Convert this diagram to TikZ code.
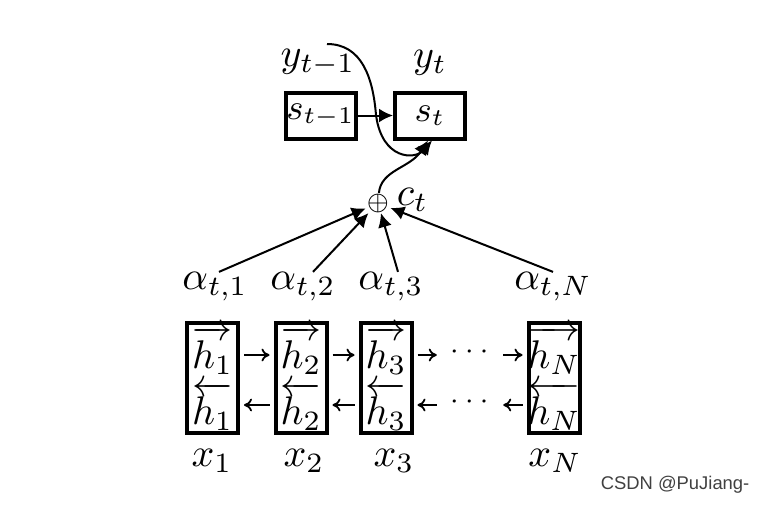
\documentclass[tikz,border=0pt]{standalone}
\usepackage{amsmath}
\usepackage{fontspec}
\newfontfamily\markfont{Liberation Sans}
\usetikzlibrary{arrows.meta}

\begin{document}
\begin{tikzpicture}[x=0.25pt,y=0.25pt,yscale=-1,
    every node/.style={font=\fontsize{10}{12}\selectfont},
    hbox/.style={draw,line width=1pt,minimum width=12.75pt,minimum height=27.5pt,inner sep=0pt},
    sbox/.style={draw,line width=1pt,minimum width=17.5pt,minimum height=11.5pt,inner sep=0pt,
      font=\fontsize{9}{11}\selectfont},
    lab/.style={inner sep=0pt},
    dots/.style={inner sep=0pt,font=\fontsize{7.5}{9}\selectfont},
    harr/.style={-{To[length=2pt,width=3.2pt]},line width=0.45pt,shorten <=1pt,shorten >=1pt},
    att/.style={-{Latex[length=3.5pt,width=3.5pt]},line width=0.5pt}]
  \useasboundingbox (0,0) rectangle (759,505);

  % encoder boxes
  \node[hbox] (b1) at (212.5,378) {};
  \node[hbox] (b2) at (301,378) {};
  \node[hbox] (b3) at (386,378) {};
  \node[hbox] (bN) at (554,378) {};

  % hidden states
  \node[lab] (f1) at (212.5,350) {$\overrightarrow{h_1}$};
  \node[lab] (g1) at (212.5,406) {$\overleftarrow{h_1}$};
  \node[lab] (f2) at (301,350) {$\overrightarrow{h_2}$};
  \node[lab] (g2) at (301,406) {$\overleftarrow{h_2}$};
  \node[lab] (f3) at (386,350) {$\overrightarrow{h_3}$};
  \node[lab] (g3) at (386,406) {$\overleftarrow{h_3}$};
  \node[lab] (fN) at (554,350) {$\overrightarrow{h_N}$};
  \node[lab] (gN) at (554,406) {$\overleftarrow{h_N}$};

  % dots
  \node[dots] (df) at (472,352) {$\cdots$};
  \node[dots] (db) at (472,402) {$\cdots$};

  % forward / backward arrows
  \draw[harr] ([yshift=-5.75pt]b1.east) -- ([yshift=-5.75pt]b2.west);
  \draw[harr] ([yshift=-5.75pt]b2.east) -- ([yshift=-5.75pt]b3.west);
  \draw[harr,shorten >=3pt] ([yshift=-5.75pt]b3.east) -- ([yshift=-5.75pt]b3.east -| df.west);
  \draw[harr,shorten <=2pt] ([yshift=-5.75pt]bN.west -| df.east) -- ([yshift=-5.75pt]bN.west);
  \draw[harr] ([yshift=6.75pt]b2.west) -- ([yshift=6.75pt]b1.east);
  \draw[harr] ([yshift=6.75pt]b3.west) -- ([yshift=6.75pt]b2.east);
  \draw[harr,shorten <=3pt] ([yshift=6.75pt]b3.east -| db.west) -- ([yshift=6.75pt]b3.east);
  \draw[harr,shorten >=2pt] ([yshift=6.75pt]bN.west) -- ([yshift=6.75pt]bN.west -| db.east);

  % inputs
  \node[lab] (x1) at (212,461) {$x_1$};
  \node[lab] (x2) at (304,461) {$x_2$};
  \node[lab] (x3) at (394,461) {$x_3$};
  \node[lab] (xN) at (555,461) {$x_N$};

  % attention weights
  \node[lab] (a1) at (215,287) {$\alpha_{t,1}$};
  \node[lab] (a2) at (303,287) {$\alpha_{t,2}$};
  \node[lab] (a3) at (391,287) {$\alpha_{t,3}$};
  \node[lab] (aN) at (553,287) {$\alpha_{t,N}$};

  % context vector
  \node[inner sep=0pt,font=\fontsize{6}{7}\selectfont] (sum) at (378,203) {$\oplus$};
  \node[lab,anchor=west] (ct) at (396,200) {$c_t$};

  \draw[att] ([xshift=1pt]a1.north) -- (sum);
  \draw[att] ([xshift=2.5pt]a2.north) -- (sum);
  \draw[att] ([xshift=1.75pt]a3.north) -- (sum);
  \draw[att] (aN.north) -- (sum);

  % decoder
  \node[sbox] (s1) at (320.5,115.5) {$s_{t-1}$};
  \node[sbox] (s2) at (430,115.5) {$s_t$};
  \node[lab] (y1) at (318,63) {$y_{t-1}$};
  \node[lab] (y2) at (430,63) {$y_t$};
  \coordinate (yin) at (327,44);

  \draw[att] (s1) -- (s2);
  \draw[att] (yin) .. controls (362,44) and (373,78) .. (376,115) .. controls (382,160) and (415,160) .. ([xshift=0.5pt]s2.south);
  \draw[att] (sum) .. controls (381,170) and (410,168) .. ([xshift=-0.5pt]s2.south);

  % watermark
  \node[anchor=west,inner sep=0pt,text=black!75,font=\markfont\fontsize{4.6}{5}\selectfont] (mark) at (600,485) {CSDN @PuJiang-};
\end{tikzpicture}
\end{document}
